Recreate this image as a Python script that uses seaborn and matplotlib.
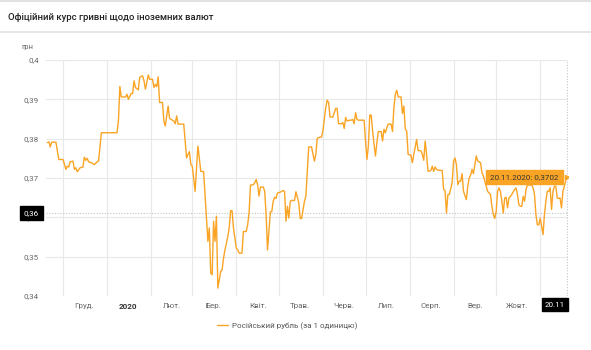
import matplotlib
matplotlib.use("Agg")
import matplotlib.pyplot as plt
from matplotlib.lines import Line2D
from matplotlib.ticker import FuncFormatter
import pandas as pd
import seaborn as sns

# Official NBU rate of the Russian rouble, UAH per 1 RUB
dates = [
    "2019-11-20", "2019-11-21", "2019-11-22", "2019-11-23", "2019-11-26", "2019-11-28",
    "2019-12-01", "2019-12-03", "2019-12-04", "2019-12-05", "2019-12-06", "2019-12-08",
    "2019-12-09", "2019-12-10", "2019-12-11", "2019-12-13", "2019-12-15", "2019-12-16",
    "2019-12-17", "2019-12-18", "2019-12-19", "2019-12-21", "2019-12-23", "2019-12-25",
    "2019-12-26", "2019-12-28", "2020-01-08", "2020-01-09", "2020-01-10", "2020-01-11",
    "2020-01-14", "2020-01-15", "2020-01-16", "2020-01-18", "2020-01-19", "2020-01-20",
    "2020-01-21", "2020-01-23", "2020-01-24", "2020-01-26", "2020-01-27", "2020-01-28",
    "2020-01-29", "2020-01-30", "2020-01-31", "2020-02-02", "2020-02-03", "2020-02-04",
    "2020-02-05", "2020-02-06", "2020-02-07", "2020-02-09", "2020-02-10", "2020-02-11",
    "2020-02-13", "2020-02-14", "2020-02-15", "2020-02-17", "2020-02-18", "2020-02-19",
    "2020-02-20", "2020-02-22", "2020-02-24", "2020-02-26", "2020-02-27", "2020-02-28",
    "2020-02-29", "2020-03-01", "2020-03-03", "2020-03-04", "2020-03-05", "2020-03-07",
    "2020-03-09", "2020-03-10", "2020-03-12", "2020-03-13", "2020-03-14", "2020-03-15",
    "2020-03-16", "2020-03-17", "2020-03-18", "2020-03-19", "2020-03-21", "2020-03-22",
    "2020-03-23", "2020-03-24", "2020-03-26", "2020-03-27", "2020-03-28", "2020-03-29",
    "2020-03-30", "2020-04-01", "2020-04-02", "2020-04-03", "2020-04-05", "2020-04-06",
    "2020-04-08", "2020-04-09", "2020-04-10", "2020-04-11", "2020-04-13", "2020-04-14",
    "2020-04-15", "2020-04-16", "2020-04-17", "2020-04-18", "2020-04-20", "2020-04-21",
    "2020-04-22", "2020-04-23", "2020-04-24", "2020-04-25", "2020-04-26", "2020-04-27",
    "2020-04-28", "2020-04-29", "2020-04-30", "2020-05-02", "2020-05-04", "2020-05-05",
    "2020-05-06", "2020-05-07", "2020-05-08", "2020-05-09", "2020-05-10", "2020-05-12",
    "2020-05-13", "2020-05-15", "2020-05-16", "2020-05-17", "2020-05-19", "2020-05-20",
    "2020-05-21", "2020-05-22", "2020-05-24", "2020-05-26", "2020-05-27", "2020-05-28",
    "2020-05-30", "2020-05-31", "2020-06-01", "2020-06-03", "2020-06-04", "2020-06-05",
    "2020-06-06", "2020-06-08", "2020-06-10", "2020-06-11", "2020-06-12", "2020-06-14",
    "2020-06-15", "2020-06-16", "2020-06-17", "2020-06-18", "2020-06-20", "2020-06-21",
    "2020-06-22", "2020-06-23", "2020-06-24", "2020-06-25", "2020-06-26", "2020-06-30",
    "2020-07-01", "2020-07-02", "2020-07-03", "2020-07-04", "2020-07-05", "2020-07-06",
    "2020-07-07", "2020-07-08", "2020-07-09", "2020-07-10", "2020-07-12", "2020-07-13",
    "2020-07-14", "2020-07-15", "2020-07-16", "2020-07-17", "2020-07-19", "2020-07-20",
    "2020-07-21", "2020-07-22", "2020-07-23", "2020-07-24", "2020-07-26", "2020-07-27",
    "2020-07-28", "2020-07-29", "2020-07-30", "2020-07-31", "2020-08-02", "2020-08-03",
    "2020-08-04", "2020-08-06", "2020-08-07", "2020-08-09", "2020-08-10", "2020-08-11",
    "2020-08-12", "2020-08-13", "2020-08-14", "2020-08-16", "2020-08-17", "2020-08-18",
    "2020-08-19", "2020-08-20", "2020-08-21", "2020-08-24", "2020-08-25", "2020-08-26",
    "2020-08-27", "2020-08-28", "2020-08-29", "2020-08-31", "2020-09-01", "2020-09-02",
    "2020-09-03", "2020-09-04", "2020-09-05", "2020-09-06", "2020-09-07", "2020-09-08",
    "2020-09-10", "2020-09-11", "2020-09-12", "2020-09-13", "2020-09-14", "2020-09-15",
    "2020-09-16", "2020-09-17", "2020-09-18", "2020-09-19", "2020-09-20", "2020-09-21",
    "2020-09-22", "2020-09-24", "2020-09-25", "2020-09-27", "2020-09-28", "2020-09-29",
    "2020-09-30", "2020-10-01", "2020-10-02", "2020-10-03", "2020-10-04", "2020-10-05",
    "2020-10-06", "2020-10-07", "2020-10-08", "2020-10-09", "2020-10-10", "2020-10-11",
    "2020-10-12", "2020-10-14", "2020-10-15", "2020-10-16", "2020-10-17", "2020-10-18",
    "2020-10-19", "2020-10-20", "2020-10-21", "2020-10-22", "2020-10-23", "2020-10-26",
    "2020-10-27", "2020-10-28", "2020-10-29", "2020-10-30", "2020-10-31", "2020-11-01",
    "2020-11-02", "2020-11-03", "2020-11-04", "2020-11-05", "2020-11-06", "2020-11-07",
    "2020-11-08", "2020-11-09", "2020-11-10", "2020-11-11", "2020-11-12", "2020-11-13",
    "2020-11-14", "2020-11-15", "2020-11-16", "2020-11-17", "2020-11-18", "2020-11-19",
    "2020-11-20",
]
rates = [
    0.3790, 0.3792, 0.3779, 0.3791, 0.3791, 0.3747,
    0.3747, 0.3722, 0.3730, 0.3728, 0.3741, 0.3743,
    0.3722, 0.3726, 0.3716, 0.3726, 0.3728, 0.3753,
    0.3745, 0.3750, 0.3741, 0.3739, 0.3734, 0.3741,
    0.3743, 0.3815, 0.3815, 0.3845, 0.3933, 0.3906,
    0.3906, 0.3913, 0.3900, 0.3915, 0.3915, 0.3947,
    0.3930, 0.3924, 0.3956, 0.3960, 0.3947, 0.3926,
    0.3943, 0.3962, 0.3951, 0.3951, 0.3930, 0.3938,
    0.3932, 0.3957, 0.3892, 0.3892, 0.3845, 0.3832,
    0.3883, 0.3852, 0.3849, 0.3845, 0.3838, 0.3858,
    0.3837, 0.3837, 0.3837, 0.3751, 0.3760, 0.3767,
    0.3734, 0.3730, 0.3666, 0.3726, 0.3781, 0.3717,
    0.3716, 0.3658, 0.3539, 0.3573, 0.3458, 0.3454,
    0.3590, 0.3539, 0.3603, 0.3420, 0.3462, 0.3466,
    0.3496, 0.3517, 0.3551, 0.3573, 0.3617, 0.3617,
    0.3573, 0.3522, 0.3517, 0.3509, 0.3509, 0.3564,
    0.3564, 0.3581, 0.3611, 0.3682, 0.3683, 0.3688,
    0.3696, 0.3683, 0.3654, 0.3677, 0.3677, 0.3666,
    0.3607, 0.3517, 0.3564, 0.3614, 0.3615, 0.3641,
    0.3651, 0.3648, 0.3662, 0.3664, 0.3668, 0.3666,
    0.3590, 0.3628, 0.3598, 0.3641, 0.3643, 0.3643,
    0.3665, 0.3637, 0.3597, 0.3597, 0.3641, 0.3654,
    0.3717, 0.3779, 0.3779, 0.3743, 0.3760, 0.3801,
    0.3804, 0.3804, 0.3820, 0.3879, 0.3898, 0.3892,
    0.3855, 0.3855, 0.3877, 0.3877, 0.3838, 0.3838,
    0.3841, 0.3826, 0.3854, 0.3845, 0.3847, 0.3847,
    0.3849, 0.3838, 0.3866, 0.3849, 0.3847, 0.3847,
    0.3794, 0.3747, 0.3781, 0.3860, 0.3860, 0.3820,
    0.3786, 0.3756, 0.3790, 0.3818, 0.3818, 0.3794,
    0.3824, 0.3815, 0.3828, 0.3837, 0.3837, 0.3818,
    0.3879, 0.3913, 0.3923, 0.3906, 0.3906, 0.3864,
    0.3883, 0.3824, 0.3820, 0.3760, 0.3758, 0.3739,
    0.3760, 0.3798, 0.3770, 0.3769, 0.3760, 0.3745,
    0.3794, 0.3760, 0.3717, 0.3719, 0.3730, 0.3717,
    0.3728, 0.3722, 0.3720, 0.3719, 0.3671, 0.3668,
    0.3611, 0.3658, 0.3658, 0.3688, 0.3743, 0.3751,
    0.3734, 0.3683, 0.3692, 0.3692, 0.3711, 0.3666,
    0.3645, 0.3679, 0.3700, 0.3707, 0.3722, 0.3711,
    0.3734, 0.3756, 0.3743, 0.3741, 0.3739, 0.3713,
    0.3705, 0.3679, 0.3666, 0.3658, 0.3628, 0.3607,
    0.3597, 0.3615, 0.3666, 0.3675, 0.3666, 0.3641,
    0.3611, 0.3649, 0.3651, 0.3624, 0.3649, 0.3653,
    0.3658, 0.3671, 0.3675, 0.3658, 0.3632, 0.3628,
    0.3628, 0.3653, 0.3641, 0.3671, 0.3682, 0.3682,
    0.3675, 0.3658, 0.3607, 0.3581, 0.3581, 0.3598,
    0.3577, 0.3556, 0.3607, 0.3641, 0.3666, 0.3666,
    0.3675, 0.3620, 0.3666, 0.3679, 0.3679, 0.3649,
    0.3648, 0.3649, 0.3624, 0.3666, 0.3679, 0.3694,
    0.3702,
]
month_labels = ["Груд.", "2020", "Лют.", "Бер.", "Квіт.", "Трав.", "Черв.",
                "Лип.", "Серп.", "Вер.", "Жовт."]
y_ticks = [0.34, 0.35, 0.36, 0.37, 0.38, 0.39, 0.40]
series_name = "Російський рубль (за 1 одиницю)"
title = "Офіційний курс гривні щодо іноземних валют"
cursor_value = 0.3611
cursor_label = "0,36"
date_badge = "20.11"

ORANGE = "#f9a425"
GRID = "#e8e8e8"
TICK = "#666666"

sns.set_theme(style="white")
plt.rcParams["font.family"] = ["Roboto", "DejaVu Sans"]

df = pd.DataFrame({"date": pd.to_datetime(dates), "rate": rates})

fig = plt.figure(figsize=(5.91, 3.50), dpi=100)
ax = fig.add_axes([46 / 591, 1 - 296 / 350, (568 - 46) / 591, (296 - 60) / 350])

sns.lineplot(data=df, x="date", y="rate", ax=ax, color=ORANGE, lw=1.0,
             label=series_name, legend=False)

ax.set_xlim(pd.Timestamp("2019-11-19"), pd.Timestamp("2020-11-20 14:00"))
ax.set_ylim(0.34, 0.40)
ax.set_xlabel("")
ax.set_ylabel("")

# month boundaries carry the grid, mid-month ticks carry the names
month_starts = pd.date_range("2019-12-01", "2020-11-01", freq="MS")
mids = [m + pd.Timedelta(days=15) for m in month_starts[:len(month_labels)]]
ax.set_xticks(month_starts)
ax.set_xticklabels([""] * len(month_starts))
ax.set_xticks(mids, minor=True)
ax.set_xticklabels(month_labels, minor=True)
ax.tick_params(axis="x", which="both", length=0, pad=5, labelsize=5.8, colors=TICK)
for lbl in ax.get_xticklabels(minor=True):
    if lbl.get_text() == "2020":
        lbl.set_fontweight("bold")
        lbl.set_color("#333333")

ax.set_yticks(y_ticks)
ax.yaxis.set_major_formatter(FuncFormatter(lambda v, _: f"{v:g}".replace(".", ",")))
ax.tick_params(axis="y", length=0, pad=5, labelsize=5.8, colors=TICK)

ax.grid(True, which="major", color=GRID, lw=0.8)
ax.grid(False, which="minor")
for s in ax.spines.values():
    s.set_visible(False)

# crosshair at the hovered position
last_date = df["date"].iloc[-1]
last_rate = df["rate"].iloc[-1]
ax.axhline(cursor_value, color="#c4c4c4", lw=0.8, ls=(0, (1, 1.5)), zorder=1)
ax.axvline(last_date, color="#c4c4c4", lw=0.8, ls=(0, (1, 1.5)), zorder=1)

ax.annotate(cursor_label, xy=(0, cursor_value), xycoords=("axes fraction", "data"),
            xytext=(-5, 0), textcoords="offset points", ha="right", va="center",
            fontsize=5.8, color="white",
            bbox=dict(boxstyle="square,pad=0.45", fc="black", ec="black"))
ax.annotate(date_badge, xy=(last_date, 0), xycoords=("data", "axes fraction"),
            xytext=(-1.5, -4), textcoords="offset points", ha="right", va="top",
            fontsize=5.8, color="white",
            bbox=dict(boxstyle="square,pad=0.4", fc="black", ec="black"))

# tooltip for the last point
tip = f"{last_date:%d.%m.%Y}: " + f"{last_rate:.4f}".replace(".", ",")
ax.annotate(tip, xy=(last_date, last_rate), xytext=(-6, 0), textcoords="offset points",
            ha="right", va="center", fontsize=5.8, color="#333333",
            bbox=dict(boxstyle="square,pad=0.5", fc=ORANGE, ec=ORANGE))
ax.plot([last_date], [last_rate], marker=">", ms=3, color=ORANGE, zorder=5)

# unit label, title and frame lines
fig.text(33 / 591, 1 - 47 / 350, "грн", ha="right", va="center", fontsize=5.5, color=TICK)
fig.text(8 / 591, 1 - 17 / 350, title, ha="left", va="center", fontsize=6.8,
         fontweight="medium", color="#222222")
fig.add_artist(Line2D([0, 1], [1 - 32 / 350] * 2, color="#e2e2e2", lw=1.2))
fig.add_artist(Line2D([0, 1], [1 - 1 / 350] * 2, color="#e2e2e2", lw=1.5))

handles, labels = ax.get_legend_handles_labels()
fig.legend(handles, labels, loc="center", bbox_to_anchor=(287 / 591, 1 - 326 / 350),
           frameon=False, fontsize=5.8, handlelength=1.4, handletextpad=0.5,
           labelcolor="#555555")

fig.savefig("out.png", dpi=100)
